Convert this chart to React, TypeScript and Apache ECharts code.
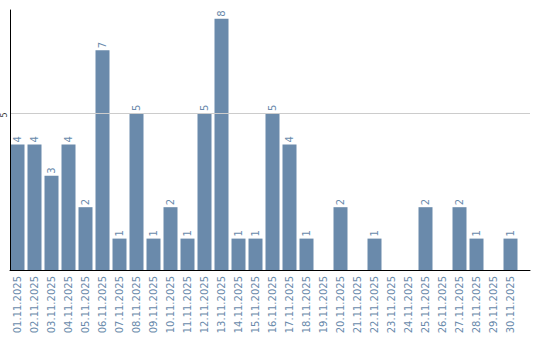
import React, { useEffect, useRef } from "react";
import * as echarts from "echarts";

const categories = [
  "01.11.2025", "02.11.2025", "03.11.2025", "04.11.2025", "05.11.2025",
  "06.11.2025", "07.11.2025", "08.11.2025", "09.11.2025", "10.11.2025",
  "11.11.2025", "12.11.2025", "13.11.2025", "14.11.2025", "15.11.2025",
  "16.11.2025", "17.11.2025", "18.11.2025", "19.11.2025", "20.11.2025",
  "21.11.2025", "22.11.2025", "23.11.2025", "24.11.2025", "25.11.2025",
  "26.11.2025", "27.11.2025", "28.11.2025", "29.11.2025", "30.11.2025",
];
const counts = [4, 4, 3, 4, 2, 7, 1, 5, 1, 2, 1, 5, 8, 1, 1, 5, 4, 1, 0, 2, 0, 1, 0, 0, 2, 0, 2, 1, 0, 1];
const yTickLabels = [5];
const yMax = 8.28;

export default function App() {
  const ref = useRef<HTMLDivElement>(null);
  useEffect(() => {
    const chart = echarts.init(ref.current!, null, { renderer: "svg" });
    const barColor = "#6a8aab";
    chart.setOption({
      animation: false,
      grid: [
        { left: 9, right: 21, top: 10, bottom: 70, containLabel: false },
        { left: 10, right: 10, top: 10, bottom: 70, containLabel: false },
      ],
      xAxis: [
        {
          type: "category",
          gridIndex: 0,
          data: categories,
          axisLine: { show: false },
          axisTick: { show: false },
          axisLabel: {
            rotate: 90,
            interval: 0,
            color: barColor,
            fontFamily: "DejaVu Sans",
            fontSize: 10,
            margin: 6,
          },
        },
        {
          type: "value",
          gridIndex: 1,
          min: 0,
          max: 1,
          z: 10,
          axisLine: { show: true, onZero: false, lineStyle: { color: "#000", width: 1 } },
          axisTick: { show: false },
          axisLabel: { show: false },
          splitLine: { show: false },
        },
      ],
      yAxis: [
        {
          type: "value",
          gridIndex: 0,
          min: 0,
          max: yMax,
          show: false,
          splitLine: { show: false },
        },
        {
          type: "value",
          gridIndex: 1,
          min: 0,
          max: yMax,
          interval: 5,
          z: 10,
          axisLine: { show: true, onZero: false, lineStyle: { color: "#000", width: 1 } },
          axisTick: { show: false },
          axisLabel: { show: false },
          splitLine: {
            show: true,
            lineStyle: { color: ["rgba(0,0,0,0)", "#cccccc", "rgba(0,0,0,0)"], width: 1 },
          },
        },
      ],
      series: [
        {
          type: "bar",
          xAxisIndex: 0,
          yAxisIndex: 0,
          data: counts.map((v) => (v === 0 ? null : v)),
          barWidth: 14,
          itemStyle: { color: barColor },
          label: {
            show: true,
            position: "top",
            rotate: 90,
            align: "left",
            verticalAlign: "middle",
            distance: 2,
            color: barColor,
            fontFamily: "DejaVu Sans",
            fontSize: 10,
          },
        },
        {
          type: "scatter",
          xAxisIndex: 1,
          yAxisIndex: 1,
          data: yTickLabels.map((v) => [0, v]),
          symbolSize: 1,
          clip: false,
          itemStyle: { color: "rgba(0,0,0,0)" },
          silent: true,
          z: 20,
          label: {
            show: true,
            position: "inside",
            rotate: 90,
            align: "center",
            verticalAlign: "middle",
            offset: [-2, -5.5],
            color: "#000",
            fontFamily: "DejaVu Sans",
            fontSize: 8,
            formatter: (p: any) => String(p.value[1]),
          },
        },
      ],
    });
    return () => chart.dispose();
  }, []);
  return (
    <div
      ref={ref}
      style={{ position: "absolute", left: 0, top: 0, width: 540, height: 340 }}
    />
  );
}
